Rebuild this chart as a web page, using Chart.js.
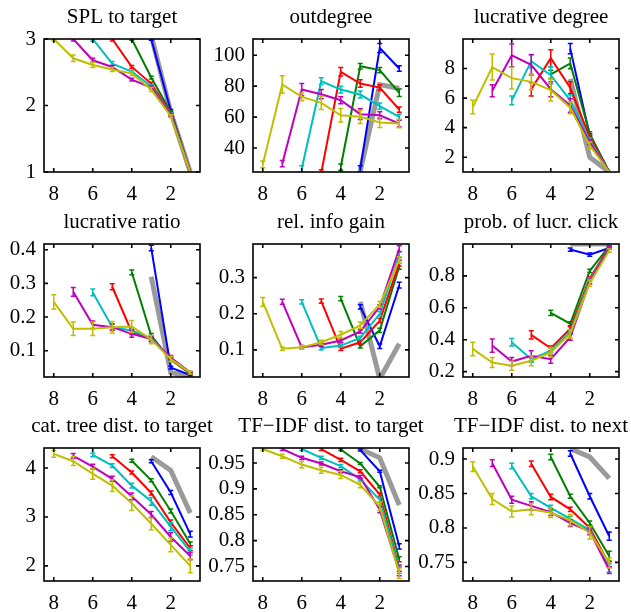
<!DOCTYPE html>
<html>
<head>
<meta charset="utf-8">
<title>Navigation features by steps before target</title>
<script src="https://cdn.jsdelivr.net/npm/chart.js@4/dist/chart.umd.min.js"></script>
<style>
  html, body { margin: 0; padding: 0; background: #fff; }
  body { width: 631px; height: 612px; position: relative; overflow: hidden; }
  canvas.panel { position: absolute; }
</style>
</head>
<body>
<script>
// Steps before reaching the target (x axis runs right to left)
const xTicks = [8, 6, 4, 2];
const xRange = [0.5, 8.5];

// Series order: path lengths 8, 7, 6, 5, 4, 3, and the gray reference (3)
const seriesColors = ['#bfbf00', '#bf00bf', '#00bfbf', '#ff0000', '#008000', '#0000ff', '#9a9a9a'];

const titles = [
  'SPL to target', 'outdegree', 'lucrative degree',
  'lucrative ratio', 'rel. info gain', 'prob. of lucr. click',
  'cat. tree dist. to target', 'TF\u2212IDF dist. to target', 'TF\u2212IDF dist. to next'
];

const splToTarget = [
  [3.0, 2.71, 2.61, 2.54, 2.48, 2.24, 1.84, 1.0],
  [3.0, 2.68, 2.58, 2.39, 2.27, 1.86, 1.0],
  [3.0, 2.63, 2.51, 2.29, 1.87, 1.0],
  [3.0, 2.58, 2.33, 1.88, 1.0],
  [3.0, 2.42, 1.9, 1.0],
  [3.0, 1.92, 1.0],
  [3.05, 1.9, 1.0]
];
const outdegree = [
  [29.4, 81.1, 73.1, 69.2, 61.2, 60.2, 56.5, 55.8],
  [29.9, 77.8, 74.8, 70.9, 61.9, 61.2, 55.8],
  [26.6, 83.2, 77.8, 74.6, 67.1, 60.2],
  [24.0, 89.3, 81.7, 79.1, 64.9],
  [27.7, 92.9, 90.4, 75.7],
  [26.6, 104.7, 91.4],
  [25.0, 81.0, 78.5]
];
const lucrativeDegree = [
  [5.4, 8.1, 7.35, 7.1, 6.55, 5.35, 2.8, 1.0],
  [6.5, 8.9, 8.25, 6.6, 5.5, 3.0, 1.0],
  [5.85, 8.5, 7.55, 5.85, 3.15, 1.0],
  [6.6, 8.7, 6.7, 3.35, 1.0],
  [7.6, 8.35, 3.6, 1.0],
  [9.35, 3.45, 1.0],
  [7.3, 2.0, 1.0]
];
const lucrativeRatio = [
  [0.245, 0.165, 0.165, 0.17, 0.172, 0.133, 0.075, 0.035],
  [0.275, 0.177, 0.17, 0.15, 0.135, 0.08, 0.035],
  [0.273, 0.17, 0.16, 0.137, 0.077, 0.035],
  [0.29, 0.155, 0.137, 0.075, 0.033],
  [0.333, 0.145, 0.073, 0.032],
  [0.405, 0.05, 0.028],
  [0.32, 0.035, 0.025]
];
const infoGain = [
  [0.233, 0.103, 0.107, 0.121, 0.142, 0.168, 0.226, 0.349],
  [0.233, 0.107, 0.114, 0.126, 0.151, 0.219, 0.38],
  [0.233, 0.105, 0.112, 0.133, 0.2, 0.363],
  [0.235, 0.103, 0.121, 0.181, 0.34],
  [0.242, 0.11, 0.154, 0.331],
  [0.219, 0.11, 0.279],
  [0.233, 0.02, 0.117]
];
const lucrClick = [
  [0.342, 0.257, 0.236, 0.268, 0.321, 0.437, 0.754, 0.959],
  [0.363, 0.263, 0.299, 0.278, 0.416, 0.764, 0.975],
  [0.384, 0.278, 0.331, 0.448, 0.775, 0.975],
  [0.43, 0.346, 0.469, 0.785, 0.98],
  [0.568, 0.5, 0.832, 0.985],
  [0.965, 0.933, 0.975],
  [1.0, 1.0, 1.0]
];
const catTreeDist = [
  [4.29, 4.14, 3.88, 3.64, 3.28, 2.86, 2.43, 2.0],
  [4.25, 4.03, 3.78, 3.42, 3.05, 2.59, 2.2],
  [4.27, 4.05, 3.64, 3.32, 2.8, 2.29],
  [4.24, 3.91, 3.49, 2.89, 2.36],
  [4.15, 3.75, 3.12, 2.45],
  [4.14, 3.5, 2.65],
  [4.23, 3.95, 3.08]
];
const tfidfTarget = [
  [0.977, 0.963, 0.947, 0.936, 0.927, 0.908, 0.866, 0.737],
  [0.977, 0.96, 0.949, 0.934, 0.923, 0.86, 0.74],
  [0.977, 0.96, 0.944, 0.918, 0.879, 0.744],
  [0.977, 0.956, 0.934, 0.889, 0.747],
  [0.976, 0.949, 0.904, 0.764],
  [0.975, 0.934, 0.789],
  [0.977, 0.96, 0.869]
];
const tfidfNext = [
  [0.889, 0.842, 0.824, 0.827, 0.822, 0.811, 0.793, 0.749],
  [0.894, 0.841, 0.832, 0.823, 0.807, 0.795, 0.739],
  [0.89, 0.846, 0.829, 0.813, 0.797, 0.742],
  [0.893, 0.845, 0.827, 0.8, 0.747],
  [0.903, 0.846, 0.807, 0.759],
  [0.908, 0.846, 0.788],
  [0.915, 0.903, 0.872]
];

// Error bar half-widths per point (the gray reference has none)
const splErr = [
  [0.03, 0.05, 0.04, 0.03, 0.03, 0.03, 0.02, 0],
  [0.03, 0.03, 0.02, 0.02, 0.02, 0.02, 0],
  [0.03, 0.03, 0.02, 0.02, 0.02, 0],
  [0.03, 0.02, 0.02, 0.02, 0],
  [0.02, 0.02, 0.02, 0],
  [0.02, 0.02, 0]
];
const outdegreeErr = [
  [2.2, 5.6, 2.5, 4.3, 4.3, 4.3, 3.2, 2.7],
  [2.0, 4.0, 3.0, 2.2, 3.5, 2.2, 2.2],
  [2.0, 2.2, 2.2, 2.2, 2.0, 1.7],
  [2.0, 2.7, 2.4, 1.8, 1.7],
  [2.0, 1.8, 1.7, 2.4],
  [2.0, 2.9, 1.8]
];
const lucrDegreeErr = [
  [0.45, 0.88, 0.74, 0.53, 0.74, 0.4, 0.23, 0],
  [0.41, 0.77, 0.68, 0.5, 0.45, 0.15, 0],
  [0.3, 0.45, 0.57, 0.37, 0.15, 0],
  [0.45, 0.57, 0.4, 0.12, 0],
  [0.28, 0.37, 0.12, 0],
  [0.34, 0.12, 0]
];
const ratioErr = [
  [0.021, 0.02, 0.02, 0.017, 0.018, 0.012, 0.008, 0.004],
  [0.013, 0.011, 0.01, 0.01, 0.008, 0.006, 0.003],
  [0.01, 0.008, 0.008, 0.008, 0.005, 0.003],
  [0.009, 0.007, 0.006, 0.005, 0.003],
  [0.007, 0.006, 0.004, 0.002],
  [0.008, 0.004, 0.002]
];
const gainErr = [
  [0.012, 0.005, 0.005, 0.006, 0.009, 0.009, 0.008, 0.009],
  [0.007, 0.005, 0.005, 0.005, 0.005, 0.006, 0.008],
  [0.006, 0.005, 0.005, 0.005, 0.006, 0.008],
  [0.006, 0.005, 0.005, 0.006, 0.008],
  [0.006, 0.005, 0.006, 0.008],
  [0.006, 0.006, 0.008]
];
const clickErr = [
  [0.042, 0.032, 0.028, 0.032, 0.03, 0.026, 0.02, 0.01],
  [0.042, 0.026, 0.032, 0.025, 0.02, 0.015, 0.008],
  [0.023, 0.02, 0.015, 0.015, 0.012, 0.008],
  [0.026, 0.015, 0.012, 0.01, 0.006],
  [0.016, 0.012, 0.01, 0.005],
  [0.01, 0.01, 0.005]
];
const catErr = [
  [0.07, 0.09, 0.11, 0.12, 0.15, 0.12, 0.14, 0.14],
  [0.05, 0.05, 0.05, 0.07, 0.06, 0.085, 0.075],
  [0.04, 0.04, 0.05, 0.08, 0.08, 0.07],
  [0.03, 0.03, 0.04, 0.05, 0.05],
  [0.03, 0.03, 0.04, 0.04],
  [0.03, 0.04, 0.06]
];
const targetErr = [
  [0.003, 0.004, 0.006, 0.006, 0.007, 0.006, 0.008, 0.01],
  [0.003, 0.003, 0.003, 0.003, 0.003, 0.006, 0.008],
  [0.003, 0.003, 0.003, 0.003, 0.005, 0.007],
  [0.003, 0.003, 0.003, 0.003, 0.006],
  [0.002, 0.002, 0.002, 0.005],
  [0.002, 0.002, 0.005]
];
const nextErr = [
  [0.007, 0.008, 0.008, 0.008, 0.007, 0.008, 0.009, 0.007],
  [0.005, 0.005, 0.006, 0.005, 0.005, 0.005, 0.005],
  [0.004, 0.004, 0.004, 0.004, 0.004, 0.006],
  [0.004, 0.004, 0.003, 0.003, 0.004],
  [0.004, 0.003, 0.003, 0.007],
  [0.004, 0.004, 0.006]
];

const yTicks = [
  [1, 2, 3], [40, 60, 80, 100], [2, 4, 6, 8],
  [0.1, 0.2, 0.3, 0.4], [0.1, 0.2, 0.3], [0.2, 0.4, 0.6, 0.8],
  [2, 3, 4], [0.75, 0.8, 0.85, 0.9, 0.95], [0.75, 0.8, 0.85, 0.9]
];
const yLimits = [
  [1, 3], [24.5, 110.5], [1, 10],
  [0.022, 0.417], [0.025, 0.393], [0.166, 1.0],
  [1.69, 4.41], [0.722, 0.979], [0.723, 0.916]
];

const panelValues = [splToTarget, outdegree, lucrativeDegree, lucrativeRatio, infoGain,
  lucrClick, catTreeDist, tfidfTarget, tfidfNext];
const panelErrors = [splErr, outdegreeErr, lucrDegreeErr, ratioErr, gainErr,
  clickErr, catErr, targetErr, nextErr];

// Grid geometry (plot area of each panel)
const colLeft = [44, 253, 463];
const rowTop = [39, 244, 448];
const PLOT_W = 156, PLOT_H = 133;
const AXIS_W = 60, TITLE_H = 40, AXIS_H = 30, RIGHT_PAD = 22;
const FONT = '"Liberation Serif", "Times New Roman", serif';

// Error bars, drawn right after each line so layering follows the series
const errorBars = {
  id: 'errorBars',
  afterDatasetDraw(chart, args) {
    const ds = chart.data.datasets[args.index];
    if (!ds.errors) return;
    const { ctx, chartArea: a, scales: { x, y } } = chart;
    ctx.save();
    ctx.beginPath();
    ctx.rect(a.left, a.top, a.right - a.left, a.bottom - a.top);
    ctx.clip();
    ctx.strokeStyle = ds.borderColor;
    ctx.lineWidth = 1.5;
    ds.data.forEach((p, i) => {
      const e = ds.errors[i];
      if (!e) return;
      const px = x.getPixelForValue(p.x);
      const lo = y.getPixelForValue(p.y - e);
      const hi = y.getPixelForValue(p.y + e);
      ctx.beginPath();
      ctx.moveTo(px, lo); ctx.lineTo(px, hi);
      ctx.moveTo(px - 2.5, lo); ctx.lineTo(px + 2.5, lo);
      ctx.moveTo(px - 2.5, hi); ctx.lineTo(px + 2.5, hi);
      ctx.stroke();
    });
    ctx.restore();
  }
};

// Boxed axes with inward ticks on all four sides, plus the panel title
const boxFrame = {
  id: 'boxFrame',
  afterDraw(chart, args, opts) {
    const { ctx, chartArea: a, scales: { x, y } } = chart;
    const tl = 4;
    ctx.save();
    ctx.strokeStyle = '#000';
    ctx.lineWidth = 1.6;
    ctx.strokeRect(a.left, a.top, a.right - a.left, a.bottom - a.top);
    ctx.beginPath();
    x.ticks.forEach(t => {
      const px = x.getPixelForValue(t.value);
      ctx.moveTo(px, a.bottom); ctx.lineTo(px, a.bottom - tl);
      ctx.moveTo(px, a.top); ctx.lineTo(px, a.top + tl);
    });
    y.ticks.forEach(t => {
      const py = y.getPixelForValue(t.value);
      ctx.moveTo(a.left, py); ctx.lineTo(a.left + tl, py);
      ctx.moveTo(a.right, py); ctx.lineTo(a.right - tl, py);
    });
    ctx.stroke();

    ctx.fillStyle = '#000';
    ctx.font = '21px ' + FONT;
    ctx.textAlign = 'center';
    ctx.textBaseline = 'alphabetic';
    ctx.fillText(opts.text, (a.left + a.right) / 2, a.top - 16);
    ctx.restore();
  }
};

function buildDatasets(values, errors) {
  return values.map((row, s) => {
    const n = row.length;
    const isRef = s === values.length - 1;
    return {
      data: row.map((v, i) => ({ x: n - i, y: v })),
      errors: errors[s] || null,
      borderColor: seriesColors[s],
      backgroundColor: seriesColors[s],
      borderWidth: isRef ? 5 : 2,
      pointRadius: 0,
      tension: 0,
      fill: false,
      clip: 0
    };
  });
}

function makePanel(idx) {
  const col = idx % 3, row = Math.floor(idx / 3);
  const canvas = document.createElement('canvas');
  canvas.className = 'panel';
  const w = AXIS_W + PLOT_W + RIGHT_PAD;
  const h = TITLE_H + PLOT_H + AXIS_H;
  canvas.width = w;
  canvas.height = h;
  canvas.style.width = w + 'px';
  canvas.style.height = h + 'px';
  canvas.style.left = (colLeft[col] - AXIS_W) + 'px';
  canvas.style.top = (rowTop[row] - TITLE_H) + 'px';
  document.body.appendChild(canvas);

  const tickFont = { family: FONT, size: 21 };
  new Chart(canvas.getContext('2d'), {
    type: 'line',
    data: { datasets: buildDatasets(panelValues[idx], panelErrors[idx]) },
    options: {
      responsive: false,
      animation: false,
      devicePixelRatio: 1,
      layout: { padding: { left: 0, top: TITLE_H, right: RIGHT_PAD, bottom: 0 } },
      plugins: {
        legend: { display: false },
        tooltip: { enabled: false },
        boxFrame: { text: titles[idx] }
      },
      scales: {
        x: {
          type: 'linear',
          reverse: true,
          min: xRange[0],
          max: xRange[1],
          grid: { display: false, drawTicks: false },
          border: { display: false },
          afterBuildTicks: s => { s.ticks = xTicks.map(v => ({ value: v })); },
          afterFit: s => { s.height = AXIS_H; },
          ticks: { color: '#000', font: tickFont, padding: 10, maxRotation: 0,
            autoSkip: false, callback: v => String(v) }
        },
        y: {
          type: 'linear',
          min: yLimits[idx][0],
          max: yLimits[idx][1],
          grid: { display: false, drawTicks: false },
          border: { display: false },
          afterBuildTicks: s => { s.ticks = yTicks[idx].map(v => ({ value: v })); },
          afterFit: s => { s.width = AXIS_W; },
          ticks: { color: '#000', font: tickFont, padding: 8,
            autoSkip: false, callback: v => String(v) }
        }
      }
    },
    plugins: [errorBars, boxFrame]
  });
}

for (let i = 0; i < 9; i++) makePanel(i);
</script>
</body>
</html>
